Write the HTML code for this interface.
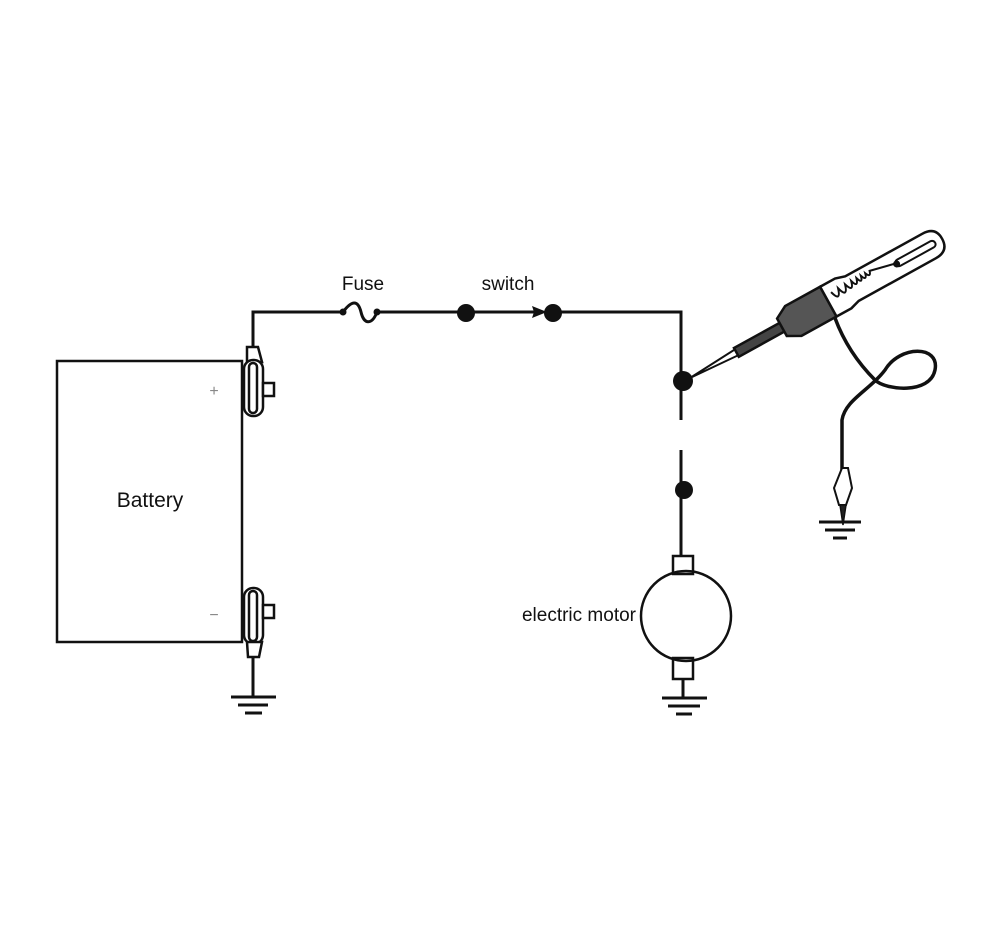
<!DOCTYPE html>
<html><head><style>body{margin:0;background:#fff}svg{display:block}</style></head>
<body>
<svg width="1000" height="950" viewBox="0 0 1000 950" xmlns="http://www.w3.org/2000/svg">
<rect width="1000" height="950" fill="#fff"/>
<g fill="none" stroke="#111" stroke-width="3">
<rect x="57" y="361" width="185" height="281" stroke-width="2.5"/>
<polyline points="253,347 253,312 343,312"/>
<path d="M343,312 C352,300 358,300 361,312 C364,325 372,325 377,312"/>
<line x1="377" y1="312" x2="466" y2="312"/>
<line x1="466" y1="312" x2="540" y2="312"/>
<polyline points="553,312 681,312 681,420"/>
<line x1="681" y1="450" x2="681" y2="556"/>
<g stroke-width="2.5">
<path d="M247,347 L258,347 L262,362 L247,362 Z" fill="#fff"/>
<rect x="244" y="360" width="19" height="56" rx="9" fill="#fff"/>
<rect x="249" y="363" width="8" height="50" rx="4"/>
<rect x="263" y="383" width="11" height="13" fill="#fff"/>
</g>
<g stroke-width="2.5">
<rect x="244" y="588" width="19" height="56" rx="9" fill="#fff"/>
<rect x="249" y="591" width="8" height="50" rx="4"/>
<path d="M247,642 L262,642 L259,657 L248,657 Z" fill="#fff"/>
<rect x="263" y="605" width="11" height="13" fill="#fff"/>
</g>
<line x1="253" y1="657" x2="253" y2="696"/>
<line x1="231" y1="697" x2="276" y2="697"/>
<line x1="238" y1="705" x2="268" y2="705"/>
<line x1="245" y1="713" x2="262" y2="713"/>
<rect x="673" y="556" width="20" height="18" stroke-width="2.5"/>
<circle cx="686" cy="616" r="45" stroke-width="2.5"/>
<rect x="673" y="658" width="20" height="21" stroke-width="2.5"/>
<line x1="683" y1="679" x2="683" y2="697"/>
<line x1="662" y1="698" x2="707" y2="698"/>
<line x1="668" y1="706" x2="700" y2="706"/>
<line x1="676" y1="714" x2="692" y2="714"/>
<path d="M835,318 C845,345 860,365 875,380 C885,390 930,395 935,370 C940,345 900,345 885,370 C870,390 845,400 842,420 L842,470" stroke-width="3.5"/>
<path d="M842,468 L848,468 L852,488 L846,505 L839,505 L834,488 Z" fill="#fff" stroke-width="2"/>
<path d="M840,505 L846,505 L843,525 Z" fill="#222" stroke-width="1.5"/>
<line x1="819" y1="522" x2="861" y2="522"/>
<line x1="825" y1="530" x2="855" y2="530"/>
<line x1="833" y1="538" x2="847" y2="538"/>
</g>
<polygon points="547,312 532,306 534,312 532,318" fill="#111"/>
<circle cx="466" cy="313" r="9" fill="#111"/>
<circle cx="553" cy="313" r="9" fill="#111"/>
<circle cx="683" cy="381" r="10" fill="#111"/>
<circle cx="684" cy="490" r="9" fill="#111"/>
<circle cx="343" cy="312" r="3.5" fill="#111"/>
<circle cx="377" cy="312" r="3.5" fill="#111"/>
<g transform="translate(690,378) rotate(-28.9)" stroke="#111" stroke-width="2.5">
<path d="M0,0 L55,-3.5 L55,3.5 Z" fill="#fff" stroke-width="2"/>
<rect x="53" y="-5" width="54" height="10" fill="#444"/>
<path d="M105,-10 L118,-17 L158,-17 L158,17 L118,17 L105,10 Z" fill="#555"/>
<path d="M158,-17 L175,-17 L185,-14 L273,-14 Q288,-14 288,0 Q288,14 273,14 L185,14 L175,17 L158,17 Z" fill="#fff"/>
<path d="M165,-7 q4,14 8,0 q4,14 8,0 q4,12 7,0 q3,10 6,0 q3,9 5,0 q3,8 5,0 q3,7 5,0 L235,-1" fill="none" stroke-width="2"/>
<rect x="235" y="-3.5" width="45" height="7" rx="3.5" fill="#fff" stroke-width="2"/>
<circle cx="236" cy="0" r="3.5" fill="#111" stroke="none"/>
</g>
<g font-family="Liberation Sans, sans-serif" fill="#111">
<text x="363" y="290" font-size="19" text-anchor="middle">Fuse</text>
<text x="508" y="290" font-size="19" text-anchor="middle">switch</text>
<text x="150" y="507" font-size="21" text-anchor="middle">Battery</text>
<text x="636" y="621" font-size="19" text-anchor="end">electric motor</text>
<text x="214" y="396" font-size="16" fill="#888" text-anchor="middle">+</text>
<text x="214" y="620" font-size="16" fill="#888" text-anchor="middle">−</text>
</g>
</svg>
</body></html>
